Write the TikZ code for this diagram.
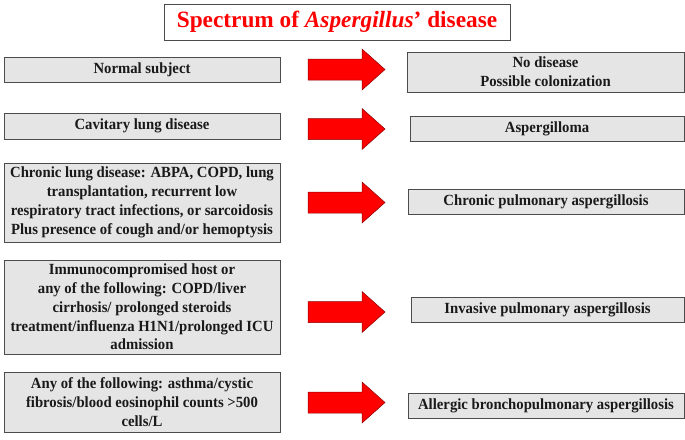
\documentclass[tikz,border=0pt]{standalone}
\usepackage{fontspec}
\setmainfont{Liberation Serif}
\newfontfamily\boxfont{Liberation Serif}[FakeStretch=0.95]
\begin{document}
\begin{tikzpicture}[x=1pt,y=-1pt,
  box/.style={draw=black!70, line width=0.9pt, fill=black!10, inner sep=0pt,
    align=center, font=\boxfont\bfseries\fontsize{15.5}{18.8}\selectfont,
    text=black!90,
    preaction={fill=black!45, transform canvas={xshift=1pt,yshift=-1.2pt}}},
  titlebox/.style={draw=black!70, line width=0.9pt, fill=white, inner sep=0pt,
    font=\bfseries\fontsize{23.3}{26}\selectfont, text=red},
  pics/bigarrow/.style={code={
    \draw[fill=red, draw=red!55!black, line width=0.5pt]
      (-38.5,-10.5) -- (15.5,-10.5) -- (15.5,-20.5) -- (38.5,0) --
      (15.5,20.5) -- (15.5,10.5) -- (-38.5,10.5) -- cycle;}}]
\useasboundingbox (0,0) rectangle (685,439);

\node[titlebox, minimum width=346pt, minimum height=36pt] (title) at (337,22)
  {Spectrum of \textit{Aspergillus}’ disease};

\node[box, minimum width=276pt, minimum height=25pt] (l1) at (142,69.5) {Normal subject};
\node[box, minimum width=276pt, minimum height=26pt] (l2) at (142,126) {Cavitary lung disease};
\node[box, minimum width=276pt, minimum height=79pt] (l3) at (142,202.5)
  {Chronic lung disease: ABPA, COPD, lung\\transplantation, recurrent low\\respiratory tract infections, or sarcoidosis\\Plus presence of cough and/or hemoptysis};
\node[box, minimum width=276pt, minimum height=94pt] (l4) at (142,307)
  {Immunocompromised host or\\any of the following: COPD/liver\\cirrhosis/ prolonged steroids\\treatment/influenza H1N1/prolonged ICU\\admission};
\node[box, minimum width=276pt, minimum height=60pt] (l5) at (142,402)
  {Any of the following: asthma/cystic\\fibrosis/blood eosinophil counts >500\\cells/L};

\node[box, minimum width=277pt, minimum height=40pt] (r1) at (545.5,72) {No disease\\Possible colonization};
\node[box, minimum width=274pt, minimum height=25pt] (r2) at (547,128.5) {Aspergilloma};
\node[box, minimum width=276pt, minimum height=25pt] (r3) at (546,201.5) {Chronic pulmonary aspergillosis};
\node[box, minimum width=273pt, minimum height=25pt] (r4) at (547.5,309.5) {Invasive pulmonary aspergillosis};
\node[box, minimum width=276pt, minimum height=25pt] (r5) at (546,405.5) {Allergic bronchopulmonary aspergillosis};

\pic at (346.5,69.5) {bigarrow};
\pic at (346.5,129) {bigarrow};
\pic at (346.5,202.5) {bigarrow};
\pic at (346.5,312) {bigarrow};
\pic at (346.5,402.5) {bigarrow};
\end{tikzpicture}
\end{document}
